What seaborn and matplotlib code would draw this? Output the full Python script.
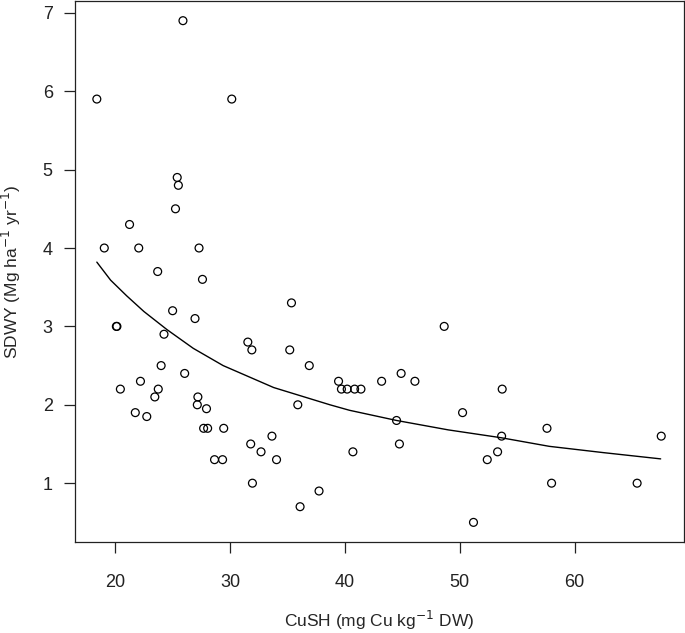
import numpy as np
import pandas as pd
import seaborn as sns
import matplotlib
matplotlib.use("Agg")
import matplotlib.pyplot as plt

# scatter points
cush = [18.4, 19.05, 20.1, 20.15, 20.45, 21.25, 21.75, 22.05, 22.2, 22.75,
        23.45, 23.75, 23.7, 24.0, 24.25, 25.0, 25.25, 25.4, 25.5, 25.9,
        26.05, 26.95, 27.15, 27.2, 27.3, 27.6, 27.7, 27.95, 28.05, 28.65,
        29.35, 29.45, 30.15, 31.55, 31.8, 31.9, 31.95, 32.7, 33.65, 34.05,
        35.2, 35.35, 35.9, 36.1, 36.9, 37.75, 39.45, 39.7, 40.2, 40.7,
        40.85, 41.4, 43.2, 44.5, 44.75, 44.9, 46.1, 48.65, 50.25, 51.2,
        52.4, 53.3, 53.65, 53.7, 57.6, 58.0, 65.45, 67.55]
sdwy = [5.9, 4.0, 3.0, 3.0, 2.2, 4.3, 1.9, 4.0, 2.3, 1.85,
        2.1, 2.2, 3.7, 2.5, 2.9, 3.2, 4.5, 4.9, 4.8, 6.9,
        2.4, 3.1, 2.0, 2.1, 4.0, 3.6, 1.7, 1.95, 1.7, 1.3,
        1.3, 1.7, 5.9, 2.8, 1.5, 2.7, 1.0, 1.4, 1.6, 1.3,
        2.7, 3.3, 2.0, 0.7, 2.5, 0.9, 2.3, 2.2, 2.2, 1.4,
        2.2, 2.2, 2.3, 1.8, 1.5, 2.4, 2.3, 3.0, 1.9, 0.5,
        1.3, 1.4, 1.6, 2.2, 1.7, 1.0, 1.0, 1.6]

# fitted curve
fit_x = [18.4, 19.6, 21.0, 22.5, 24.5, 26.8, 29.4, 33.8, 38.7, 40.4,
         44.5, 49.0, 53.6, 57.8, 62.5, 67.5]
fit_y = [3.82, 3.59, 3.39, 3.19, 2.96, 2.72, 2.50, 2.22, 2.00, 1.93,
         1.80, 1.68, 1.58, 1.47, 1.39, 1.31]

pts = pd.DataFrame({"CuSH": cush, "SDWY": sdwy})
curve = pd.DataFrame({"x": fit_x, "y": fit_y})

sns.set_style("ticks")
plt.rcParams["font.family"] = ["Liberation Sans", "DejaVu Sans"]

fig = plt.figure(figsize=(6.85, 6.33), dpi=100)
ax = fig.add_axes([0.1095, 0.1438, 0.8885, 0.8545])

sns.scatterplot(data=pts, x="CuSH", y="SDWY", ax=ax, s=32,
                facecolor="none", edgecolor="black", linewidth=0.9)
sns.lineplot(data=curve, x="x", y="y", ax=ax, color="black", linewidth=1.0,
             sort=False, estimator=None)

ax.set_xlim(16.5, 69.5)
ax.set_ylim(0.25, 7.15)
ax.set_xticks([20, 30, 40, 50, 60])
ax.set_yticks([1, 2, 3, 4, 5, 6, 7])
ax.tick_params(axis="x", length=8, width=0.9, pad=15, labelsize=13, colors="#222222")
ax.tick_params(axis="y", length=8, width=0.9, pad=8, labelsize=13, colors="#222222")
for s in ax.spines.values():
    s.set_visible(True)
    s.set_linewidth(0.9)
    s.set_color("#222222")

ax.set_xlabel("CuSH (mg Cu kg$^{-1}$ DW)", fontsize=12.5, labelpad=13)
ax.set_ylabel("SDWY (Mg ha$^{-1}$ yr$^{-1}$)", fontsize=12.5, labelpad=14)

fig.savefig("out.png", dpi=100)
